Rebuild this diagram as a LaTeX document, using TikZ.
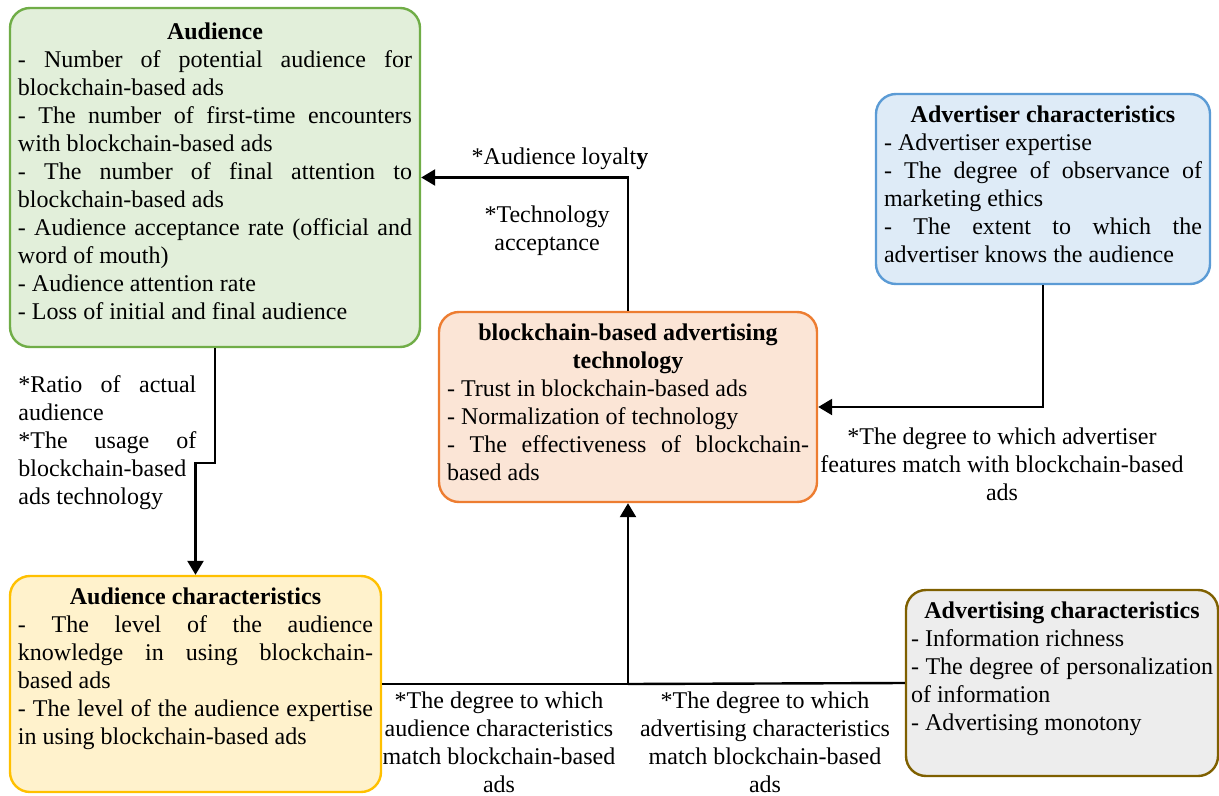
\documentclass[tikz,border=0pt]{standalone}
\usepackage{fontspec}
\setmainfont{Liberation Serif}
\usepackage{tikz}
\usetikzlibrary{positioning}
\usetikzlibrary{arrows.meta}
\definecolor{audLine}{HTML}{70AD47}
\definecolor{audFill}{HTML}{E2EFDA}
\definecolor{advLine}{HTML}{5B9BD5}
\definecolor{advFill}{HTML}{DEEBF7}
\definecolor{techLine}{HTML}{ED7D31}
\definecolor{techFill}{HTML}{FBE5D6}
\definecolor{audchLine}{HTML}{FFC000}
\definecolor{audchFill}{HTML}{FFF2CC}
\definecolor{advchLine}{HTML}{7F6000}
\definecolor{advchFill}{HTML}{EDEDED}
\newcommand{\boxtext}[4][10.7pt]{\parbox[c][#3][t]{#2}{\tolerance=10000\hyphenpenalty=10000\rule{0pt}{#1}#4}}

\begin{document}
\begin{tikzpicture}[x=0.5pt,y=-0.5pt,font=\fontsize{12}{14}\selectfont]

            \tikzstyle{box} = [draw, line width=1.2pt, rounded corners=10pt, inner xsep=4pt, inner ysep=3.5pt];
            \tikzstyle{lbl} = [align=center, inner sep=0pt];
            \tikzstyle{ln} = [line width=1.2pt];
            \tikzstyle{arr} = [line width=1.2pt, -{Triangle[length=7pt,width=8pt]}];

            \useasboundingbox (0,0) rectangle (1219,796);

            \node[box, draw=audLine, fill=audFill] (aud) at (215,177.5) {\boxtext[12.5pt]{197pt}{162.5pt}{{\centering\bfseries Audience\par}
              - Number of potential audience for\linebreak blockchain-based ads\par
              - The number of first-time encounters\linebreak with blockchain-based ads\par
              - The number of final attention to\linebreak blockchain-based ads\par
              - Audience acceptance rate (official and\linebreak word of mouth)\par
              - Audience attention rate\par
              - Loss of initial and final audience}};

            \node[box, draw=advLine, fill=advFill] (adv) at (1043,189) {\boxtext{159pt}{88pt}{{\centering\bfseries Advertiser characteristics\par}
              - Advertiser expertise\par
              - The degree of observance of\linebreak marketing ethics\par
              - The extent to which the\linebreak advertiser knows the audience}};

            \node[box, draw=techLine, fill=techFill] (tech) at (628,407) {\boxtext{181pt}{88pt}{{\centering\bfseries blockchain-based advertising\\technology\par}
              - Trust in blockchain-based ads\par
              - Normalization of technology\par
              - The effectiveness of blockchain-\linebreak based ads}};

            \node[box, draw=audchLine, fill=audchFill] (audch) at (195.5,684) {\boxtext{177.5pt}{101pt}{{\centering\bfseries Audience characteristics\par}
              - The level of the audience\linebreak knowledge in using blockchain-\linebreak based ads\par
              - The level of the audience expertise\linebreak in using blockchain-based ads}};

            \node[box, draw=advchLine, fill=advchFill, inner xsep=2.5pt] (advch) at (1062,683) {\boxtext{151pt}{86pt}{{\centering\bfseries Advertising characteristics\par}
              - Information richness\par
              - The degree of personalization\linebreak of information\par
              - Advertising monotony}};

            \node[lbl] (loyal) at (560,159) {*Audience loyalt\textbf{y}};
            \node[lbl] (accept) at (547,231) {*Technology\\acceptance};
            \node[lbl, anchor=west] (ratio) at (18,443) {\parbox{89pt}{\tolerance=10000\hyphenpenalty=10000 *Ratio of actual\linebreak audience\par
              *The usage of\linebreak blockchain-based\\ads technology}};
            \node[lbl] (advmatch) at (1002,464) {*The degree to which advertiser\\features match with blockchain-based\\ads};
            \node[lbl] (audmatch) at (499,742) {*The degree to which\\audience characteristics\\match blockchain-based\\ads};
            \node[lbl] (adsmatch) at (765,742) {*The degree to which\\advertising characteristics\\match blockchain-based\\ads};

            \coordinate (join) at (tech.south |- audch.east);

            \draw[arr] (tech.north) |- (aud.east);
            \draw[arr] (aud.south) -- ++(0,115) -| (audch.north);
            \draw[arr] (adv.south) |- (tech.east);
            \draw[ln] (audch.east) -- (join);
            \draw[ln] (advch.west) -- (join);
            \draw[arr] (join) -- (tech.south);
          \end{tikzpicture}
\end{document}
